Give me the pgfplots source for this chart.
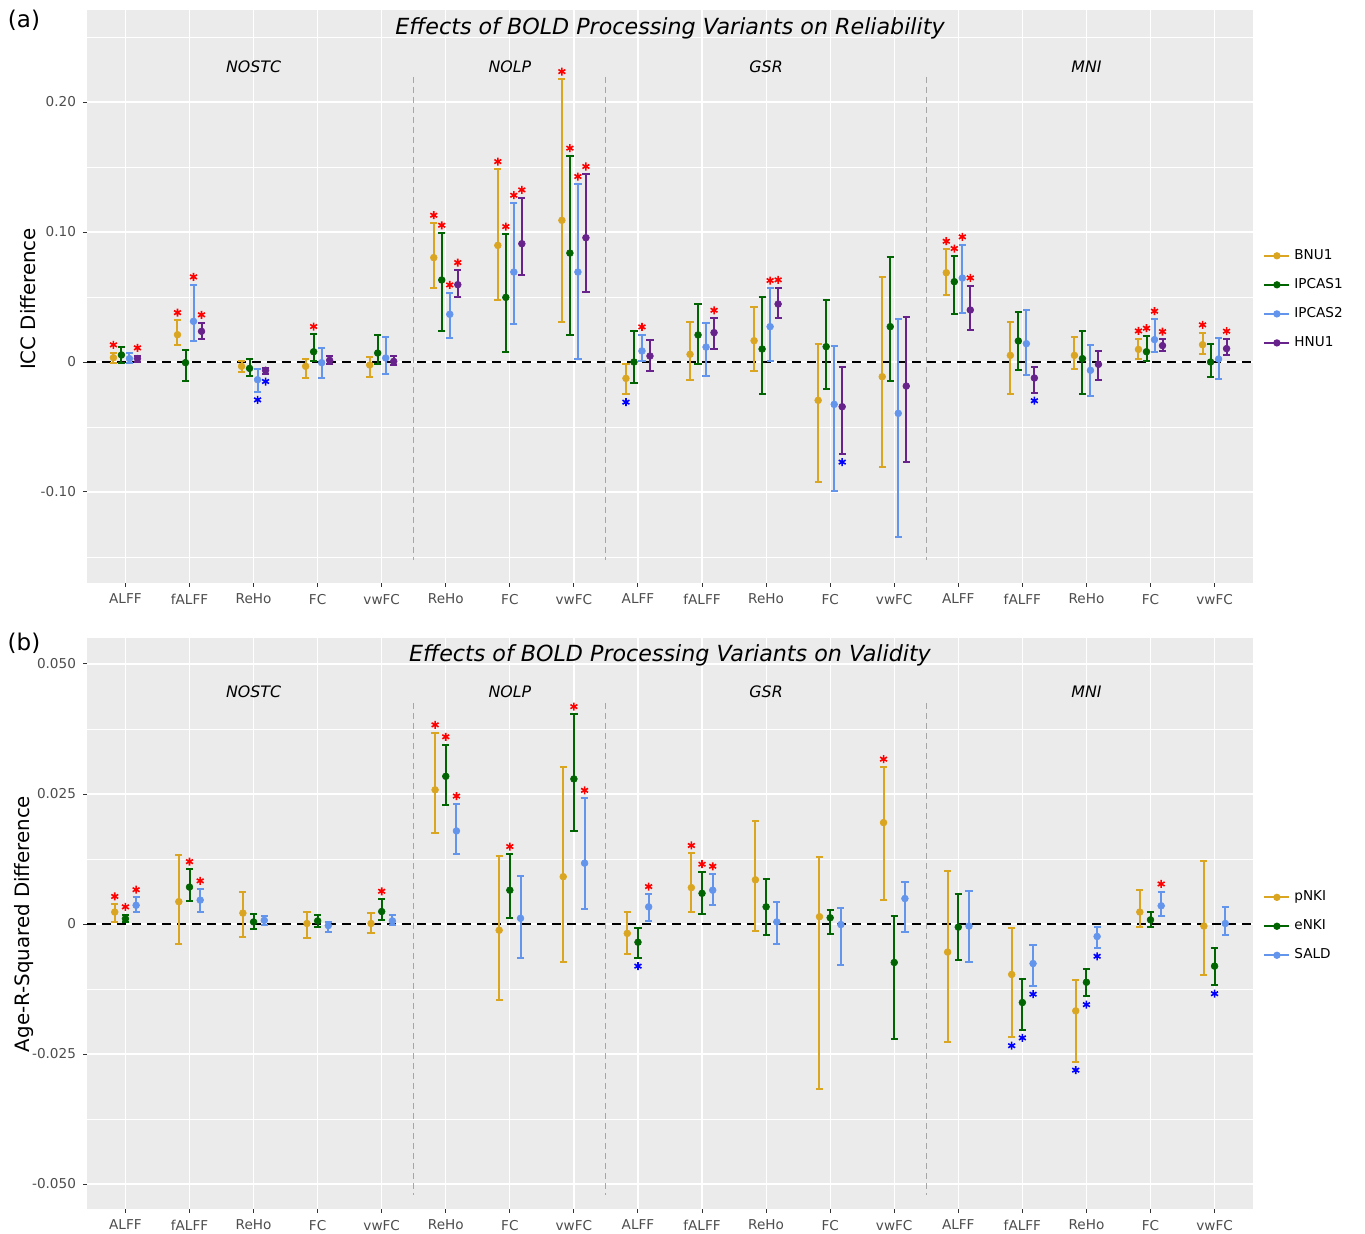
\documentclass[border=0pt]{standalone}
\usepackage{fontspec}
\setmainfont{DejaVu Sans}
\usepackage{pgfplots}
\usepackage{pgfplotstable}
\usetikzlibrary{plotmarks}
\pgfplotsset{compat=1.18}
\definecolor{cA}{HTML}{DAA520}
\definecolor{cB}{HTML}{006400}
\definecolor{cC}{HTML}{6495ED}
\definecolor{cD}{HTML}{68228B}
\definecolor{bg}{HTML}{EBEBEB}
\definecolor{tl}{HTML}{4D4D4D}
\definecolor{tk}{HTML}{333333}
\definecolor{sepc}{HTML}{A6A6A6}

% panel a: c y hi lo sig
\pgfplotstableread{
c y hi lo sig
1 0.0033 0.0072 -0.0005 1
2 0.0210 0.0320 0.0130 1
3 -0.0033 0.0008 -0.0080 0
4 -0.0033 0.0026 -0.0120 0
5 -0.0023 0.0036 -0.0113 0
6 0.0803 0.1069 0.0567 1
7 0.0897 0.1482 0.0477 1
8 0.1090 0.2174 0.0305 1
9 -0.0126 -0.0015 -0.0249 -1
10 0.0059 0.0308 -0.0141 0
11 0.0164 0.0426 -0.0069 0
12 -0.0295 0.0138 -0.0926 0
13 -0.0113 0.0654 -0.0808 0
14 0.0687 0.0869 0.0513 1
15 0.0051 0.0308 -0.0249 0
16 0.0051 0.0195 -0.0056 0
17 0.0097 0.0179 0.0026 1
18 0.0133 0.0226 0.0062 1
}\tBNU
\pgfplotstableread{
c y hi lo sig
1 0.0054 0.0118 -0.0010 0
2 -0.0005 0.0090 -0.0149 0
3 -0.0049 0.0026 -0.0108 0
4 0.0079 0.0213 0.0008 1
5 0.0069 0.0205 -0.0013 0
6 0.0631 0.0992 0.0238 1
7 0.0497 0.0982 0.0077 1
8 0.0838 0.1585 0.0205 1
9 0.0000 0.0236 -0.0164 0
10 0.0208 0.0444 -0.0013 0
11 0.0100 0.0500 -0.0244 0
12 0.0118 0.0480 -0.0205 0
13 0.0272 0.0805 -0.0149 0
14 0.0618 0.0813 0.0369 1
15 0.0162 0.0387 -0.0059 0
16 0.0026 0.0236 -0.0244 0
17 0.0079 0.0200 0.0008 1
18 0.0000 0.0138 -0.0118 0
}\tIPA
\pgfplotstableread{
c y hi lo sig
1 0.0026 0.0072 -0.0010 0
2 0.0313 0.0595 0.0159 1
3 -0.0136 -0.0054 -0.0231 -1
4 -0.0005 0.0108 -0.0120 0
5 0.0031 0.0192 -0.0090 0
6 0.0367 0.0533 0.0187 1
7 0.0692 0.1223 0.0295 1
8 0.0692 0.1367 0.0026 1
9 0.0085 0.0210 0.0005 1
10 0.0115 0.0303 -0.0108 0
11 0.0272 0.0567 0.0008 1
12 -0.0326 0.0123 -0.0992 0
13 -0.0395 0.0333 -0.1346 0
14 0.0646 0.0903 0.0377 1
15 0.0141 0.0403 -0.0097 0
16 -0.0064 0.0131 -0.0264 0
17 0.0172 0.0331 0.0077 1
18 0.0023 0.0185 -0.0133 0
}\tIPB
\pgfplotstableread{
c y hi lo sig
1 0.0026 0.0049 0.0000 1
2 0.0236 0.0303 0.0174 1
3 -0.0064 -0.0044 -0.0090 -1
4 0.0013 0.0049 -0.0018 0
5 0.0005 0.0049 -0.0026 0
6 0.0595 0.0705 0.0500 1
7 0.0910 0.1264 0.0667 1
8 0.0956 0.1444 0.0541 1
9 0.0046 0.0169 -0.0072 0
10 0.0226 0.0338 0.0103 1
11 0.0446 0.0572 0.0336 1
12 -0.0344 -0.0041 -0.0710 -1
13 -0.0185 0.0349 -0.0772 0
14 0.0400 0.0587 0.0244 1
15 -0.0123 -0.0038 -0.0238 -1
16 -0.0018 0.0082 -0.0138 0
17 0.0126 0.0174 0.0082 1
18 0.0103 0.0177 0.0051 1
}\tHNU
% panel b
\pgfplotstableread{
c y hi lo sig
1 0.0023 0.0038 0.0004 1
2 0.0043 0.0132 -0.0039 0
3 0.0021 0.0062 -0.0025 0
4 0.0001 0.0023 -0.0027 0
5 0.0001 0.0022 -0.0017 0
6 0.0258 0.0368 0.0175 1
7 -0.0012 0.0131 -0.0146 0
8 0.0091 0.0301 -0.0074 0
9 -0.0018 0.0024 -0.0058 0
10 0.0070 0.0136 0.0023 1
11 0.0085 0.0199 -0.0013 0
12 0.0014 0.0128 -0.0317 0
13 0.0195 0.0302 0.0046 1
14 -0.0054 0.0101 -0.0226 0
15 -0.0097 -0.0008 -0.0218 -1
16 -0.0167 -0.0108 -0.0265 -1
17 0.0023 0.0066 -0.0006 0
18 -0.0004 0.0121 -0.0098 0
}\tpNKI
\pgfplotstableread{
c y hi lo sig
1 0.0010 0.0018 0.0003 1
2 0.0071 0.0105 0.0044 1
3 0.0004 0.0019 -0.0009 0
4 0.0006 0.0018 -0.0006 0
5 0.0024 0.0048 0.0008 1
6 0.0284 0.0345 0.0229 1
7 0.0065 0.0134 0.0012 1
8 0.0279 0.0403 0.0179 1
9 -0.0035 -0.0008 -0.0065 -1
10 0.0059 0.0100 0.0019 1
11 0.0033 0.0087 -0.0021 0
12 0.0012 0.0027 -0.0019 0
13 -0.0074 0.0016 -0.0222 0
14 -0.0006 0.0057 -0.0069 0
15 -0.0151 -0.0106 -0.0203 -1
16 -0.0112 -0.0087 -0.0139 -1
17 0.0008 0.0024 -0.0006 0
18 -0.0081 -0.0047 -0.0118 -1
}\teNKI
\pgfplotstableread{
c y hi lo sig
1 0.0036 0.0051 0.0023 1
2 0.0046 0.0068 0.0024 1
3 0.0007 0.0015 -0.0001 0
4 -0.0003 0.0004 -0.0016 0
5 0.0006 0.0017 -0.0002 0
6 0.0179 0.0231 0.0135 1
7 0.0011 0.0092 -0.0065 0
8 0.0117 0.0242 0.0029 1
9 0.0033 0.0057 0.0006 1
10 0.0065 0.0096 0.0036 1
11 0.0004 0.0042 -0.0038 0
12 -0.0001 0.0030 -0.0078 0
13 0.0049 0.0081 -0.0015 0
14 -0.0004 0.0063 -0.0074 0
15 -0.0076 -0.0041 -0.0119 -1
16 -0.0024 -0.0006 -0.0046 -1
17 0.0035 0.0062 0.0015 1
18 0.0001 0.0033 -0.0022 0
}\tSALD

\pgfplotsset{
  ser/.style={only marks, mark=*, mark size=1.7pt, line width=1pt,
    mark options={line width=0.3pt},
    legend image code/.code={\draw[line width=1pt] (0pt,0pt) -- (12.5pt,0pt); \fill (6.25pt,0pt) circle (1.3pt);},
    /pgfplots/error bars/y dir=both, /pgfplots/error bars/y explicit,
    /pgfplots/error bars/error bar style={line width=1pt, solid},
    /pgfplots/error bars/error mark options={rotate=90, mark size=1.8pt, line width=1pt}},
  sigmk/.style={only marks, mark=asterisk, mark size=2pt,
    mark options={solid, line width=0.8pt}},
  base/.style={scale only axis, width=583pt, xmin=0.4, xmax=18.6,
    xtick={1,...,18},
    xticklabels={ALFF,fALFF,ReHo,FC,vwFC,ReHo,FC,vwFC,ALFF,fALFF,ReHo,FC,vwFC,ALFF,fALFF,ReHo,FC,vwFC},
    scaled y ticks=false,
    axis background/.style={fill=bg}, axis line style={draw=none},
    tick align=outside, tick pos=left, major tick length=2pt, minor tick length=0pt,
    tick style={tk, line width=0.5pt},
    xmajorgrids, ymajorgrids, yminorgrids,
    major grid style={white, line width=0.6pt},
    minor grid style={white, line width=0.3pt},
    ticklabel style={font=\fontsize{6.8}{8}\selectfont, text=tl},
    clip=false, legend cell align=left, unbounded coords=discard,
    legend style={at={(1,0.495)}, anchor=west, xshift=2pt, draw=none, fill=none,
      font=\fontsize{6.8}{8}\selectfont, row sep=4pt}},
}

\begin{document}
\begin{tikzpicture}
\path[use as bounding box] (0,0) rectangle (682.5pt,-617pt);
\node[font=\fontsize{11.5}{13}\selectfont] at (12pt,-10pt) {(a)};
\node[font=\fontsize{11.5}{13}\selectfont] at (12pt,-321.5pt) {(b)};
\node[rotate=90, font=\fontsize{9.9}{11}\selectfont] at (14.25pt,-149.5pt) {ICC Difference};
\node[rotate=90, font=\fontsize{9.9}{11}\selectfont] at (12pt,-462pt) {Age-R-Squared Difference};

% ---------------- panel a
\begin{axis}[base, at={(43.5pt,-5pt)}, anchor=north west, height=286.5pt,
  ymin=-0.170, ymax=0.2708,
  ytick={-0.1,0,0.1,0.2}, yticklabels={-0.10,0,0.10,0.20},
  minor ytick={-0.15,-0.05,0.05,0.15,0.25}]
\addplot[forget plot, black, line width=0.8pt, dash pattern=on 4.5pt off 3pt] coordinates {(0.4,0) (18.6,0)};
\addplot[forget plot, sepc, line width=0.5pt, dash pattern=on 3pt off 2pt] coordinates {(5.5,0.2195) (5.5,-0.152)};
\addplot[forget plot, sepc, line width=0.5pt, dash pattern=on 3pt off 2pt] coordinates {(8.5,0.2195) (8.5,-0.152)};
\addplot[forget plot, sepc, line width=0.5pt, dash pattern=on 3pt off 2pt] coordinates {(13.5,0.2195) (13.5,-0.152)};

\addplot[ser, color=cA] table[x expr=\thisrow{c}-0.1875, y=y, y error plus expr=\thisrow{hi}-\thisrow{y}, y error minus expr=\thisrow{y}-\thisrow{lo}] {\tBNU};
\addlegendentry{BNU1}
\addplot[ser, color=cB] table[x expr=\thisrow{c}-0.0625, y=y, y error plus expr=\thisrow{hi}-\thisrow{y}, y error minus expr=\thisrow{y}-\thisrow{lo}] {\tIPA};
\addlegendentry{IPCAS1}
\addplot[ser, color=cC] table[x expr=\thisrow{c}+0.0625, y=y, y error plus expr=\thisrow{hi}-\thisrow{y}, y error minus expr=\thisrow{y}-\thisrow{lo}] {\tIPB};
\addlegendentry{IPCAS2}
\addplot[ser, color=cD] table[x expr=\thisrow{c}+0.1875, y=y, y error plus expr=\thisrow{hi}-\thisrow{y}, y error minus expr=\thisrow{y}-\thisrow{lo}] {\tHNU};
\addlegendentry{HNU1}

\addplot+[forget plot, sigmk, red, y filter/.expression={\thisrow{sig}==1 ? y : nan}] table[x expr=\thisrow{c}-0.1875, y expr=\thisrow{hi}+0.006] {\tBNU};
\addplot+[forget plot, sigmk, red, y filter/.expression={\thisrow{sig}==1 ? y : nan}] table[x expr=\thisrow{c}-0.0625, y expr=\thisrow{hi}+0.006] {\tIPA};
\addplot+[forget plot, sigmk, red, y filter/.expression={\thisrow{sig}==1 ? y : nan}] table[x expr=\thisrow{c}+0.0625, y expr=\thisrow{hi}+0.006] {\tIPB};
\addplot+[forget plot, sigmk, red, y filter/.expression={\thisrow{sig}==1 ? y : nan}] table[x expr=\thisrow{c}+0.1875, y expr=\thisrow{hi}+0.006] {\tHNU};
\addplot+[forget plot, sigmk, blue, y filter/.expression={\thisrow{sig}==-1 ? y : nan}] table[x expr=\thisrow{c}-0.1875, y expr=\thisrow{lo}-0.006] {\tBNU};
\addplot+[forget plot, sigmk, blue, y filter/.expression={\thisrow{sig}==-1 ? y : nan}] table[x expr=\thisrow{c}-0.0625, y expr=\thisrow{lo}-0.006] {\tIPA};
\addplot+[forget plot, sigmk, blue, y filter/.expression={\thisrow{sig}==-1 ? y : nan}] table[x expr=\thisrow{c}+0.0625, y expr=\thisrow{lo}-0.006] {\tIPB};
\addplot+[forget plot, sigmk, blue, y filter/.expression={\thisrow{sig}==-1 ? y : nan}] table[x expr=\thisrow{c}+0.1875, y expr=\thisrow{lo}-0.006] {\tHNU};

\node[font=\itshape\fontsize{11.1}{13}\selectfont] at (rel axis cs:0.5,0.9686) {Effects of BOLD Processing Variants on Reliability};
\node[font=\itshape\fontsize{7.9}{9}\selectfont] at (axis cs:3,0.2269) {NOSTC};
\node[font=\itshape\fontsize{7.9}{9}\selectfont] at (axis cs:7,0.2269) {NOLP};
\node[font=\itshape\fontsize{7.9}{9}\selectfont] at (axis cs:11,0.2269) {GSR};
\node[font=\itshape\fontsize{7.9}{9}\selectfont] at (axis cs:16,0.2269) {MNI};
\end{axis}

% ---------------- panel b
\begin{axis}[base, at={(43.5pt,-319pt)}, anchor=north west, height=285.5pt,
  ymin=-0.0548, ymax=0.0550,
  ytick={-0.05,-0.025,0,0.025,0.05}, yticklabels={-0.050,-0.025,0,0.025,0.050},
  minor ytick={-0.0375,-0.0125,0.0125,0.0375}]
\addplot[forget plot, black, line width=0.8pt, dash pattern=on 4.5pt off 3pt] coordinates {(0.4,0) (18.6,0)};
\addplot[forget plot, sepc, line width=0.5pt, dash pattern=on 3pt off 2pt] coordinates {(5.5,0.0425) (5.5,-0.0521)};
\addplot[forget plot, sepc, line width=0.5pt, dash pattern=on 3pt off 2pt] coordinates {(8.5,0.0425) (8.5,-0.0521)};
\addplot[forget plot, sepc, line width=0.5pt, dash pattern=on 3pt off 2pt] coordinates {(13.5,0.0425) (13.5,-0.0521)};

\addplot[ser, color=cA] table[x expr=\thisrow{c}-0.1667, y=y, y error plus expr=\thisrow{hi}-\thisrow{y}, y error minus expr=\thisrow{y}-\thisrow{lo}] {\tpNKI};
\addlegendentry{pNKI}
\addplot[ser, color=cB] table[x expr=\thisrow{c}, y=y, y error plus expr=\thisrow{hi}-\thisrow{y}, y error minus expr=\thisrow{y}-\thisrow{lo}] {\teNKI};
\addlegendentry{eNKI}
\addplot[ser, color=cC] table[x expr=\thisrow{c}+0.1667, y=y, y error plus expr=\thisrow{hi}-\thisrow{y}, y error minus expr=\thisrow{y}-\thisrow{lo}] {\tSALD};
\addlegendentry{SALD}

\addplot+[forget plot, sigmk, red, y filter/.expression={\thisrow{sig}==1 ? y : nan}] table[x expr=\thisrow{c}-0.1667, y expr=\thisrow{hi}+0.0015] {\tpNKI};
\addplot+[forget plot, sigmk, red, y filter/.expression={\thisrow{sig}==1 ? y : nan}] table[x expr=\thisrow{c}, y expr=\thisrow{hi}+0.0015] {\teNKI};
\addplot+[forget plot, sigmk, red, y filter/.expression={\thisrow{sig}==1 ? y : nan}] table[x expr=\thisrow{c}+0.1667, y expr=\thisrow{hi}+0.0015] {\tSALD};
\addplot+[forget plot, sigmk, blue, y filter/.expression={\thisrow{sig}==-1 ? y : nan}] table[x expr=\thisrow{c}-0.1667, y expr=\thisrow{lo}-0.0016] {\tpNKI};
\addplot+[forget plot, sigmk, blue, y filter/.expression={\thisrow{sig}==-1 ? y : nan}] table[x expr=\thisrow{c}, y expr=\thisrow{lo}-0.0016] {\teNKI};
\addplot+[forget plot, sigmk, blue, y filter/.expression={\thisrow{sig}==-1 ? y : nan}] table[x expr=\thisrow{c}+0.1667, y expr=\thisrow{lo}-0.0016] {\tSALD};

\node[font=\itshape\fontsize{11.1}{13}\selectfont] at (rel axis cs:0.5,0.970) {Effects of BOLD Processing Variants on Validity};
\node[font=\itshape\fontsize{7.9}{9}\selectfont] at (axis cs:3,0.0446) {NOSTC};
\node[font=\itshape\fontsize{7.9}{9}\selectfont] at (axis cs:7,0.0446) {NOLP};
\node[font=\itshape\fontsize{7.9}{9}\selectfont] at (axis cs:11,0.0446) {GSR};
\node[font=\itshape\fontsize{7.9}{9}\selectfont] at (axis cs:16,0.0446) {MNI};
\end{axis}
\end{tikzpicture}
\end{document}
